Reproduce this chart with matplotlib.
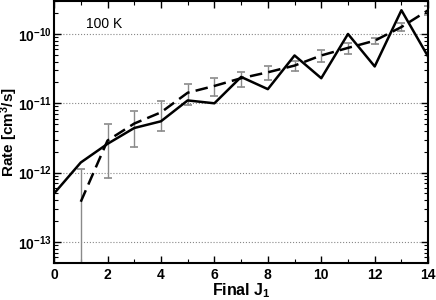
import matplotlib
matplotlib.use('Agg')
import matplotlib.pyplot as plt
from matplotlib.ticker import LogLocator, MultipleLocator, NullFormatter
import numpy as np

plt.rcParams['font.family'] = ['Liberation Sans', 'DejaVu Sans']
plt.rcParams['mathtext.fontset'] = 'custom'
plt.rcParams['mathtext.rm'] = 'Liberation Sans:bold'
plt.rcParams['mathtext.bf'] = 'Liberation Sans:bold'
plt.rcParams['mathtext.default'] = 'bf'

# data
j = np.arange(0, 15)
rate_solid = [5.0e-13, 1.4e-12, 2.6e-12, 4.4e-12, 5.5e-12, 1.1e-11, 1.0e-11, 2.4e-11,
              1.6e-11, 4.9e-11, 2.3e-11, 1.0e-10, 3.4e-11, 2.2e-10, 4.7e-11]
j_dash = np.arange(1, 15)
rate_dash = [3.8e-13, 2.9e-12, 5.1e-12, 7.4e-12, 1.42e-11, 1.78e-11, 2.3e-11,
             2.8e-11, 3.5e-11, 4.9e-11, 6.3e-11, 8.0e-11, 1.26e-10, 2.2e-10]
err_dash = [7.4e-13, 2.07e-12, 2.75e-12, 3.4e-12, 4.6e-12, 5.0e-12, 5.6e-12,
            6.6e-12, 6.0e-12, 9.0e-12, 1.1e-11, 8.5e-12, 1.6e-11, 3.0e-11]

fig = plt.figure(figsize=(4.36, 3.0), dpi=100)
ax = fig.add_axes([0.124, 0.124, 0.858, 0.873])

ax.plot(j, rate_solid, 'k-', lw=1.8, zorder=3)
eb = ax.errorbar(j_dash, rate_dash, yerr=err_dash, fmt='none', ecolor='#8a8a8a',
                 elinewidth=1.0, capsize=3, capthick=1.2, zorder=2)
for cl in eb[1]:
    cl.set_color('#222222')
ax.plot(j_dash, rate_dash, color='k', ls=(0, (5, 2.5)), lw=1.8, zorder=3)

ax.set_yscale('log')
ax.set_xlim(0, 14)
ax.set_ylim(5.0e-14, 3.0e-10)
ax.xaxis.set_major_locator(MultipleLocator(2))
ax.xaxis.set_minor_locator(MultipleLocator(1))
ax.yaxis.set_major_locator(LogLocator(base=10, numticks=10))
ax.yaxis.set_minor_locator(LogLocator(base=10, subs=np.arange(2, 10), numticks=10))
ax.yaxis.set_minor_formatter(NullFormatter())
ax.tick_params(which='both', direction='in', top=True, right=True, labelsize=10)
ax.tick_params(which='major', length=5, width=1)
ax.tick_params(axis='y', which='major', pad=1.5)
ax.tick_params(which='minor', length=3, width=0.8)
for lab in ax.get_xticklabels() + ax.get_yticklabels():
    lab.set_fontweight('bold')
for s in ax.spines.values():
    s.set_linewidth(1.5)

ax.grid(True, which='major', axis='y', ls=':', color='#888888', lw=0.8)
ax.text(1.2, 1.4e-10, '100 K', fontsize=10, va='center')

ax.set_xlabel('Final J$_1$', fontsize=11.5, fontweight='bold')
ax.set_ylabel('Rate [cm$^3$/s]', fontsize=11, fontweight='bold')
ax.xaxis.set_label_coords(0.5, -0.07)
ax.yaxis.set_label_coords(-0.091, 0.5)

fig.savefig('out.png', dpi=100)
